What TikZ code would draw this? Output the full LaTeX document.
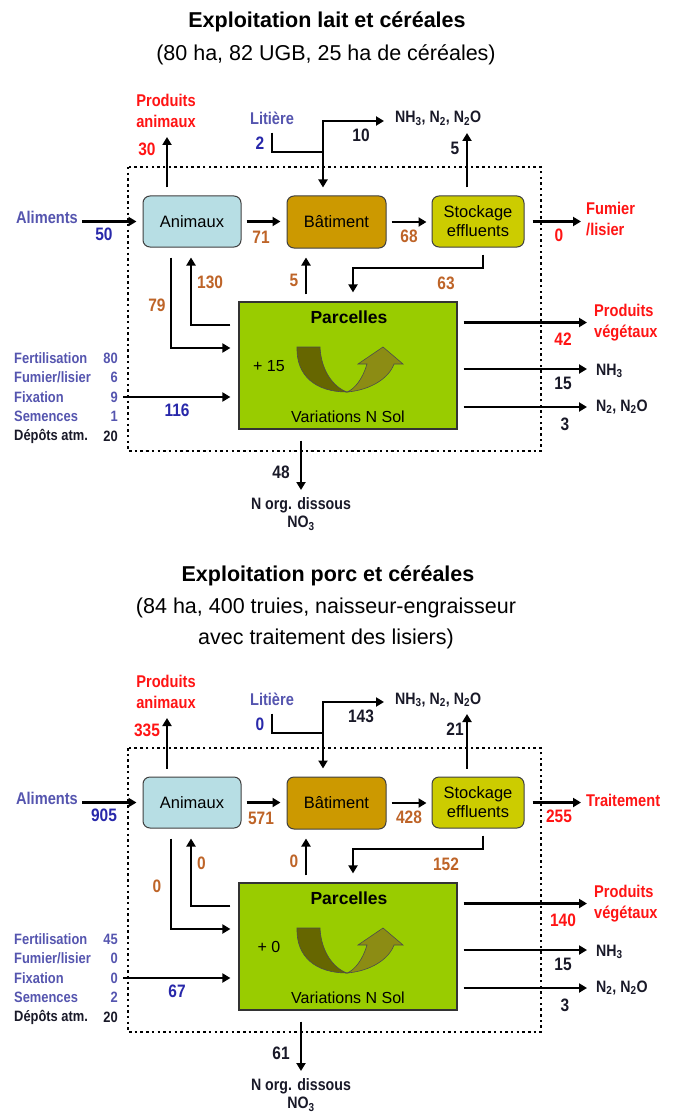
\documentclass[tikz,border=0pt]{standalone}
\usepackage{fontspec}
\setmainfont{Liberation Sans}
\newfontfamily\nf[FakeStretch=0.86]{Liberation Sans}
\usetikzlibrary{arrows.meta,calc}

\definecolor{cAnim}{RGB}{183,222,228}
\definecolor{cBat}{RGB}{204,153,0}
\definecolor{cSto}{RGB}{204,204,0}
\definecolor{cPar}{RGB}{153,204,0}
\definecolor{cDark}{RGB}{102,102,0}
\definecolor{cLight}{RGB}{140,140,20}
\definecolor{cIn}{RGB}{85,85,175}
\definecolor{cInN}{RGB}{40,40,170}
\definecolor{cBr}{RGB}{190,100,40}
\definecolor{cRed}{RGB}{255,20,20}
\definecolor{cBlk}{RGB}{25,25,40}

\tikzset{
  procbox/.style={draw=black!75, line width=1pt, rounded corners=7pt, inner sep=0pt,
    font=\fontsize{16.5}{19}\selectfont, align=center},
  parbox/.style={draw=black!80, line width=1.2pt, fill=cPar, inner sep=0pt},
  flow/.style={line width=2.2pt, -{Triangle[length=8pt,width=9pt]}},
  biflow/.style={line width=2.2pt, {Triangle[length=8pt,width=9pt]}-{Triangle[length=8pt,width=9pt]}},
  wire/.style={line width=2.2pt},
  lbl/.style={font=\nf\bfseries\fontsize{17}{21.5}\selectfont, inner sep=0pt, align=center},
  num/.style={font=\nf\bfseries\fontsize{18}{20}\selectfont, inner sep=0pt},
  innum/.style={num, text=cInN},
  brnum/.style={num, text=cBr},
  rednum/.style={num, text=cRed},
  blknum/.style={num, text=cBlk},
  listtxt/.style={font=\nf\bfseries\fontsize{15}{18}\selectfont, inner sep=0pt, text=cIn},
  emtxt/.style={font=\nf\bfseries\fontsize{16.5}{18}\selectfont, inner sep=0pt, text=cBlk},
  soiltxt/.style={font=\fontsize{16}{18}\selectfont, inner sep=0pt},
  dotbox/.style={line width=2.5pt, dash pattern=on 2.5pt off 3.2pt},
  uturn/.style={draw=black!70, line width=0.6pt},
}

\newcommand\drawfarm[1]{%
  \draw[dotbox] (128,167) rectangle (541,451);
  % process boxes
  \node[procbox, fill=cAnim, minimum width=98pt, minimum height=51pt] (#1anim) at (192,221.5) {Animaux};
  \node[procbox, fill=cBat, minimum width=99pt, minimum height=52pt] (#1bat) at (336.5,222) {Bâtiment};
  \node[procbox, fill=cSto, minimum width=92pt, minimum height=51pt] (#1sto) at (478,221.5) {Stockage\\effluents};
  \node[parbox, minimum width=218pt, minimum height=127pt] (#1par) at (348,365.5) {};
  \node[font=\bfseries\fontsize{17.5}{20}\selectfont, inner sep=0pt] (#1parT) at (349,317) {Parcelles};
  \node[soiltxt] (#1var) at (348,417) {Variations N Sol};
  \node[soiltxt] (#1vn) at (269,366) {+ \vVar};
  % U-turn arrow
  \path[uturn, fill=cDark] (297,347) -- (320,347) .. controls (321,370) and (333,387) .. (347,392)
     .. controls (316,392) and (296,376) .. cycle;
  \path[uturn, fill=cLight] (347,392) .. controls (371,390) and (389,378) .. (394,364)
     -- (403,364) -- (383,347) -- (358,364) -- (367,364)
     .. controls (363,378) and (355,389) .. (347,392) -- cycle;
  % Aliments
  \node[lbl, text=cIn] (#1ali) at (47,217) {Aliments};
  \node[innum] (#1aliN) at (104,234) {\vAli};
  \draw[flow, shorten <=4pt, shorten >=6pt] (#1ali.east |- #1anim.west) -- (#1anim.west);
  % Produits animaux
  \node[lbl, text=cRed] (#1pa) at (166,111) {Produits\\animaux};
  \node[rednum] (#1paN) at (147,149) {\vPA};
  \coordinate (#1paE) at (167,137);
  \draw[flow, shorten <=8pt] (#1anim.north -| #1paE) -- (#1paE);
  % internal chain
  \draw[flow, shorten <=5pt, shorten >=6pt] (#1anim.east) -- (#1bat.west |- #1anim.east);
  \node[brnum] (#1abN) at (261,237) {\vAB};
  \draw[flow, shorten <=5pt, shorten >=5pt] (#1bat.east) -- (#1sto.west |- #1bat.east);
  \node[brnum] (#1bsN) at (409,236) {\vBS};
  % manure out
  \node[lbl, text=cRed, align=left, anchor=west] (#1out) at (586,219) {\vOut};
  \draw[flow, shorten <=8pt, shorten >=5pt] (#1sto.east) -- (#1out.west |- #1sto.east);
  \node[rednum] (#1outN) at (559,235) {\vOutN};
  % litiere and building emissions
  \node[lbl, text=cIn] (#1lit) at (272,118) {Litière};
  \node[innum] (#1litN) at (260,143) {\vLit};
  \coordinate (#1j) at (323,152);
  \coordinate (#1tj) at (323,121);
  \coordinate (#1emE) at (384,121);
  \node[emtxt, anchor=base west] (#1em) at (395,123) {NH\textsubscript{3}, N\textsubscript{2}, N\textsubscript{2}O};
  \draw[wire, shorten <=8pt] (#1lit.south) |- (#1j);
  \draw[biflow, shorten <=8pt] (#1tj |- #1bat.north) -- (#1tj) -- (#1emE);
  \node[blknum] (#1batN) at (361,135) {\vBatEm};
  % storage emissions
  \coordinate (#1suE) at (467,133);
  \draw[flow, shorten <=8pt] (#1sto.north -| #1suE) -- (#1suE);
  \node[blknum] (#1stoN) at (455,148) {\vStoEm};
  % storage -> parcelles
  \coordinate (#1c1) at (483,268);
  \coordinate (#1c2) at (353,268);
  \draw[flow, shorten <=7pt, shorten >=9pt] (#1sto.south -| #1c1) -- (#1c1) -- (#1c2) -- (#1c2 |- #1par.north);
  \node[brnum] (#1spN) at (446,283) {\vSP};
  % parcelles -> batiment
  \coordinate (#1c3) at (306,275);
  \draw[flow, shorten <=7pt, shorten >=9pt] (#1par.north -| #1c3) -- (#1bat.south -| #1c3);
  \node[brnum] (#1pbN) at (294,280) {\vPB};
  % animaux <-> parcelles
  \coordinate (#1c4) at (171,348);
  \draw[flow, shorten <=10pt, shorten >=8pt] (#1anim.south -| #1c4) -- (#1c4) -- (#1par.west |- #1c4);
  \node[brnum] (#1apN) at (157,305) {\vAP};
  \coordinate (#1c5) at (191,325);
  \draw[flow, shorten <=8pt, shorten >=10pt] (#1par.west |- #1c5) -- (#1c5) -- (#1anim.south -| #1c5);
  \node[brnum, anchor=west] (#1paaN) at (197,282) {\vPAn};
  % inputs list
  \node[listtxt, anchor=west] (#1l1) at (14,358) {Fertilisation};
  \node[listtxt, anchor=east] (#1v1) at (118,358) {\vFert};
  \node[listtxt, anchor=west] (#1l2) at (14,377) {Fumier/lisier};
  \node[listtxt, anchor=east] (#1v2) at (118,377) {\vFum};
  \node[listtxt, anchor=west] (#1l3) at (14,397) {Fixation};
  \node[listtxt, anchor=east] (#1v3) at (118,397) {\vFix};
  \node[listtxt, anchor=west] (#1l4) at (14,416) {Semences};
  \node[listtxt, anchor=east] (#1v4) at (118,416) {\vSem};
  \node[listtxt, anchor=west, text=cBlk] (#1l5) at (14,436) {Dépôts atm.};
  \node[listtxt, anchor=east, text=cBlk] (#1v5) at (118,436) {\vDep};
  \draw[flow, shorten <=5pt, shorten >=8pt] (#1v3.east) -- (#1par.west |- #1v3.east);
  \node[innum] (#1inN) at (177,410) {\vIn};
  % outputs right
  \node[lbl, text=cRed, anchor=west, align=left] (#1pv) at (594,322.5) {Produits\\végétaux};
  \draw[flow, shorten <=6pt, shorten >=7pt] (#1par.east |- #1pv.west) -- (#1pv.west);
  \node[rednum] (#1pvN) at (563,339) {\vPV};
  \node[emtxt, anchor=base west] (#1nh) at (596,375) {NH\textsubscript{3}};
  \coordinate (#1r2) at (587,369);
  \draw[flow, shorten <=6pt] (#1par.east |- #1r2) -- (#1r2);
  \node[blknum] (#1nhN) at (563,383) {\vNH};
  \node[emtxt, anchor=base west] (#1nn) at (596,411) {N\textsubscript{2}, N\textsubscript{2}O};
  \coordinate (#1r3) at (587,407);
  \draw[flow, shorten <=6pt] (#1par.east |- #1r3) -- (#1r3);
  \node[blknum] (#1nnN) at (565,424) {\vNN};
  % leaching
  \node[emtxt, align=center, font=\nf\bfseries\fontsize{16.5}{18}\selectfont] (#1no) at (301,514) {N org. dissous\\NO\textsubscript{3}};
  \coordinate (#1bE) at (301,490);
  \draw[flow, shorten <=11pt] (#1par.south -| #1bE) -- (#1bE);
  \node[blknum] (#1leN) at (281,472) {\vLeach};
}

\begin{document}
\begin{tikzpicture}[x=1pt,y=-1pt]
\useasboundingbox[fill=white] (0,0) rectangle (673,1115);
% ---------- top farm
\node[font=\bfseries\fontsize{21.5}{26}\selectfont, inner sep=0pt] (t1) at (327,22) {Exploitation lait et céréales};
\node[font=\fontsize{21.5}{26}\selectfont, inner sep=0pt] (s1) at (326,55) {(80 ha, 82 UGB, 25 ha de céréales)};
\def\vAli{50}\def\vPA{30}\def\vAB{71}\def\vBS{68}
\def\vOut{Fumier\\/lisier}\def\vOutN{0}
\def\vLit{2}\def\vBatEm{10}\def\vStoEm{5}\def\vSP{63}\def\vPB{5}
\def\vAP{79}\def\vPAn{130}
\def\vFert{80}\def\vFum{6}\def\vFix{9}\def\vSem{1}\def\vDep{20}\def\vIn{116}
\def\vPV{42}\def\vNH{15}\def\vNN{3}\def\vLeach{48}\def\vVar{15}
\drawfarm{a}
% ---------- bottom farm
\node[font=\bfseries\fontsize{21.5}{26}\selectfont, inner sep=0pt] (t2) at (328,576) {Exploitation porc et céréales};
\node[font=\fontsize{21.5}{31}\selectfont, inner sep=0pt, align=center] (s2) at (326,623.5) {(84 ha, 400 truies, naisseur-engraisseur\\avec traitement des lisiers)};
\begin{scope}[shift={(0,581)}]
\def\vAli{905}\def\vPA{335}\def\vAB{571}\def\vBS{428}
\def\vOut{Traitement}\def\vOutN{255}
\def\vLit{0}\def\vBatEm{143}\def\vStoEm{21}\def\vSP{152}\def\vPB{0}
\def\vAP{0}\def\vPAn{0}
\def\vFert{45}\def\vFum{0}\def\vFix{0}\def\vSem{2}\def\vDep{20}\def\vIn{67}
\def\vPV{140}\def\vNH{15}\def\vNN{3}\def\vLeach{61}\def\vVar{0}
\drawfarm{b}
\end{scope}
\end{tikzpicture}
\end{document}
